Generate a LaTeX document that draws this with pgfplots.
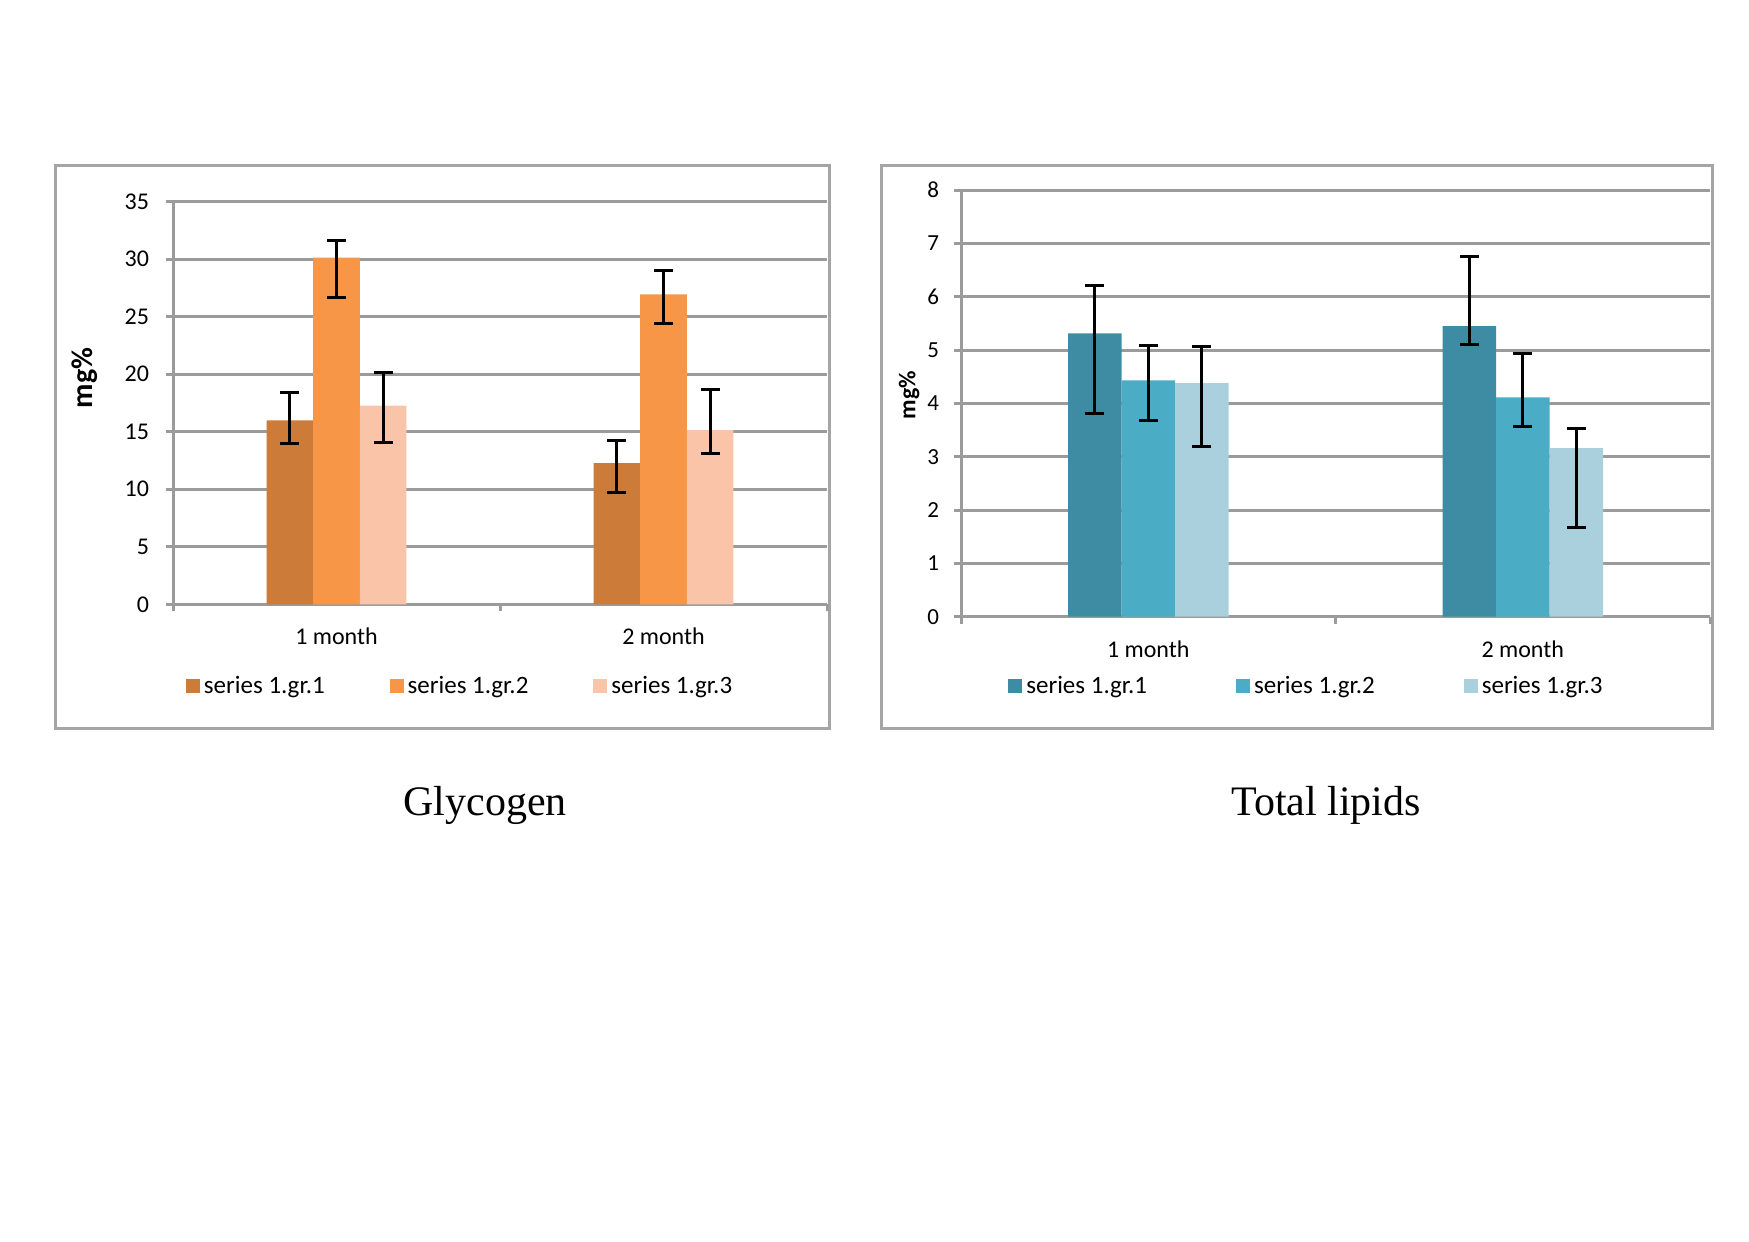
\documentclass[border=0pt]{standalone}
\usepackage{fontspec}
\setmainfont{Carlito}
\newfontfamily\titlefont{Liberation Serif}
\usepackage{pgfplots}
\usepackage{pgfplotstable}
\pgfplotsset{compat=1.18}

\definecolor{gridgray}{RGB}{155,155,155}
\definecolor{framegray}{RGB}{165,165,165}
\definecolor{ga}{RGB}{204,123,56}
\definecolor{gb}{RGB}{247,150,70}
\definecolor{gc}{RGB}{250,196,168}
\definecolor{la}{RGB}{61,140,164}
\definecolor{lb}{RGB}{75,172,198}
\definecolor{lc}{RGB}{170,207,221}

% value, error up, error down for each group
\pgfplotstableread{
x y1 p1 m1 y2 p2 m2 y3 p3 m3
1 16.00 2.45 2.00 30.13 1.53 3.48 17.27 2.89 3.19
2 12.28 1.94 2.52 26.94 2.06 2.49 15.15 3.54 2.08
}\glycogen
\pgfplotstableread{
x y1 p1 m1 y2 p2 m2 y3 p3 m3
1 5.31 0.90 1.50 4.43 0.65 0.76 4.38 0.68 1.19
2 5.45 1.30 0.34 4.11 0.82 0.54 3.16 0.36 1.49
}\lipids

\pgfplotsset{
  excelbar/.style={
    scale only axis, anchor=south west,
    ybar=0pt, axis lines*=left,
    xmin=0.5, xmax=2.5, ymin=0,
    xtick={0.5,1.5,2.5}, x tick label as interval,
    xticklabels={1 month,2 month},
    xticklabel style={font=\fontsize{12}{14}\selectfont, yshift=-4.5pt},
    ymajorgrids, grid style={draw=gridgray, line width=1.5pt},
    axis line style={draw=gridgray, line width=1.5pt},
    tick style={draw=gridgray, line width=1.5pt},
    tick align=outside, major tick length=3.5pt,
    /pgf/number format/assume math mode=true,
    legend columns=3,
    legend image code/.code={\path[#1, draw=none] (0pt,-3.5pt) rectangle (7pt,3.5pt);},
  },
  errbars/.style={
    error bars/.cd, y dir=both, y explicit,
    error bar style={line width=1.5pt, black},
    error mark options={rotate=90, mark size=4.75pt, line width=1.5pt, black}},
}

\begin{document}
\begin{tikzpicture}
\path[use as bounding box] (0pt,0pt) rectangle (874.5pt,-620.5pt);
\draw[framegray, line width=1.5pt] (27.5pt,-82.85pt) rectangle (414.5pt,-364.35pt);
\draw[framegray, line width=1.5pt] (440.5pt,-82.85pt) rectangle (856pt,-364.35pt);

\begin{axis}[excelbar,
    at={(86.5pt,-302.15pt)}, width=327pt, height=201.3pt,
    ymax=35, ytick={0,5,...,35}, bar width=23.3pt,
    yticklabel style={font=\fontsize{12}{14}\selectfont, xshift=-5pt},
    ylabel={mg\%},
    ylabel style={at={(rel axis cs:-0.1357,0.562)}, anchor=center,
      font=\bfseries\fontsize{15}{15}\selectfont},
    legend style={at={(rel axis cs:0.0192,-0.203)}, anchor=west,
      draw=none, fill=none, inner sep=0pt,
      font=\fontsize{12.5}{14}\selectfont,
      /tikz/every even column/.append style={column sep=30.5pt}},
  ]
\addplot[fill=ga, draw=none, errbars] table[x=x, y=y1, y error plus=p1, y error minus=m1] {\glycogen};
\addplot[fill=gb, draw=none, errbars] table[x=x, y=y2, y error plus=p2, y error minus=m2] {\glycogen};
\addplot[fill=gc, draw=none, errbars] table[x=x, y=y3, y error plus=p3, y error minus=m3] {\glycogen};
\legend{series 1.gr.1, series 1.gr.2, series 1.gr.3}
\end{axis}

\begin{axis}[excelbar,
    at={(480.5pt,-308.35pt)}, width=374.5pt, height=213.35pt,
    ymax=8, ytick={0,1,...,8}, bar width=26.75pt,
    yticklabel style={font=\fontsize{11.5}{13}\selectfont, xshift=-4pt},
    xticklabel style={yshift=-0.5pt},
    ylabel={mg\%},
    ylabel style={at={(rel axis cs:-0.0694,0.5196)}, anchor=center,
      font=\bfseries\fontsize{12}{12}\selectfont},
    legend style={at={(rel axis cs:0.0626,-0.1624)}, anchor=west,
      draw=none, fill=none, inner sep=0pt,
      font=\fontsize{12.5}{14}\selectfont,
      /tikz/every even column/.append style={column sep=42.5pt}},
  ]
\addplot[fill=la, draw=none, errbars] table[x=x, y=y1, y error plus=p1, y error minus=m1] {\lipids};
\addplot[fill=lb, draw=none, errbars] table[x=x, y=y2, y error plus=p2, y error minus=m2] {\lipids};
\addplot[fill=lc, draw=none, errbars] table[x=x, y=y3, y error plus=p3, y error minus=m3] {\lipids};
\legend{series 1.gr.1, series 1.gr.2, series 1.gr.3}
\end{axis}

\node[font=\titlefont\fontsize{21}{25}\selectfont] at (242.5pt,-402.5pt) {Glycogen};
\node[font=\titlefont\fontsize{21}{25}\selectfont] at (663pt,-402.5pt) {Total lipids};
\end{tikzpicture}
\end{document}
